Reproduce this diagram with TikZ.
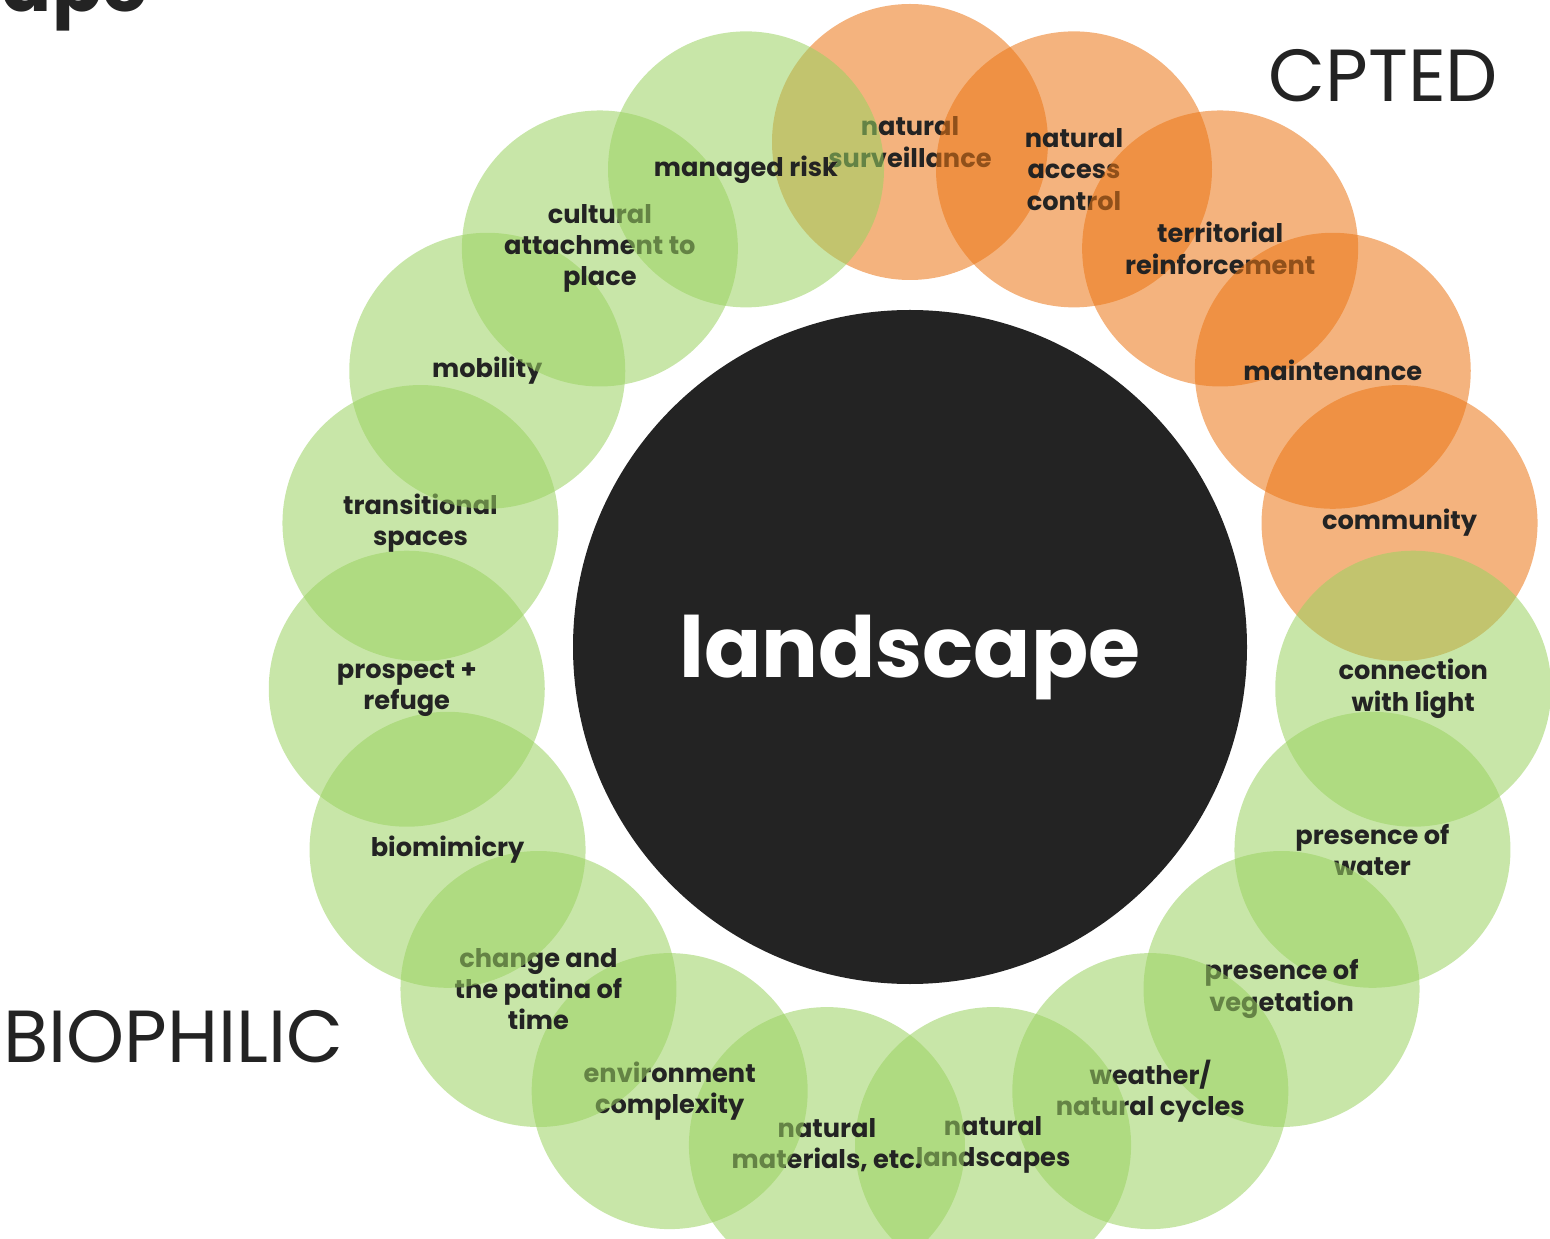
\documentclass[tikz,border=0pt]{standalone}
\usepackage{fontspec}
\setmainfont{Poppins}
\usepackage{xcolor}
\usepackage{tikz}

\definecolor{cpted}{RGB}{235,117,20}
\definecolor{bio}{RGB}{155,210,97}
\definecolor{ink}{RGB}{35,35,35}

\begin{document}
\begin{tikzpicture}[
    spot/.style={circle, minimum size=5.52cm, inner sep=0pt, fill opacity=0.55, text opacity=1,
        align=center, text=ink, font=\fontsize{14.6}{17.8}\selectfont\bfseries},
    cpt/.style={spot, fill=cpted},
    bioph/.style={spot, fill=bio},
    big/.style={inner sep=0pt, text=ink, font=\fontsize{42}{42}\selectfont}]
        \useasboundingbox (0,0) rectangle (31,-24.78);
        \clip (0,0) rectangle (31,-24.78);

        % title fragment and group names
        \node[big, anchor=base east, font=\fontsize{42}{42}\selectfont\bfseries] (title) at (2.96,-0.24) {ape};
        \node[big, anchor=base west] (cptedname) at (25.36,-2.04) {CPTED};
        \node[big, anchor=base west] (bioname) at (0.06,-21.24) {BIOPHILIC};

        % centre
        \node[circle, fill=ink, minimum size=13.48cm] (land) at (18.2,-12.94) {};
        \node[anchor=base, text=white, font=\fontsize{48}{48}\selectfont\bfseries] (word) at (18.2,-13.54) {landscape};

        \begin{scope}[shift={(18.2,-12.94)}]
        % CPTED ring
        \node[cpt] (surveil) at (90:10.1) {natural\\surveillance};
        \node[cpt] (access) at (71.05:10.1) {natural\\access\\control};
        \node[cpt] (territ) at (52.11:10.1) {territorial\\reinforcement};
        \node[cpt] (maint) at (33.16:10.1) {maintenance};
        \node[cpt] (comm) at (14.21:10.1) {community};
        % biophilic ring
        \node[bioph] (light) at (-4.74:10.1) {connection\\with light};
        \node[bioph] (water) at (-23.68:10.1) {presence of\\water};
        \node[bioph] (veget) at (-42.63:10.1) {presence of\\vegetation};
        \node[bioph] (weather) at (-61.58:10.1) {weather/\\natural cycles};
        \node[bioph] (landsc) at (-80.53:10.1) {natural\\landscapes};
        \node[bioph] (mater) at (-99.47:10.1) {natural\\materials, etc.};
        \node[bioph] (envir) at (-118.42:10.1) {environment\\complexity};
        \node[bioph] (patina) at (-137.37:10.1) {change and\\the patina of\\time};
        \node[bioph] (biomim) at (-156.32:10.1) {biomimicry};
        \node[bioph] (prosp) at (-175.26:10.1) {prospect +\\refuge};
        \node[bioph] (trans) at (165.79:10.1) {transitional\\spaces};
        \node[bioph] (mob) at (146.84:10.1) {mobility};
        \node[bioph] (cult) at (127.89:10.1) {cultural\\attachment to\\place};
        \node[bioph] (risk) at (108.95:10.1) {managed risk};
        \end{scope}

    \end{tikzpicture}
\end{document}
